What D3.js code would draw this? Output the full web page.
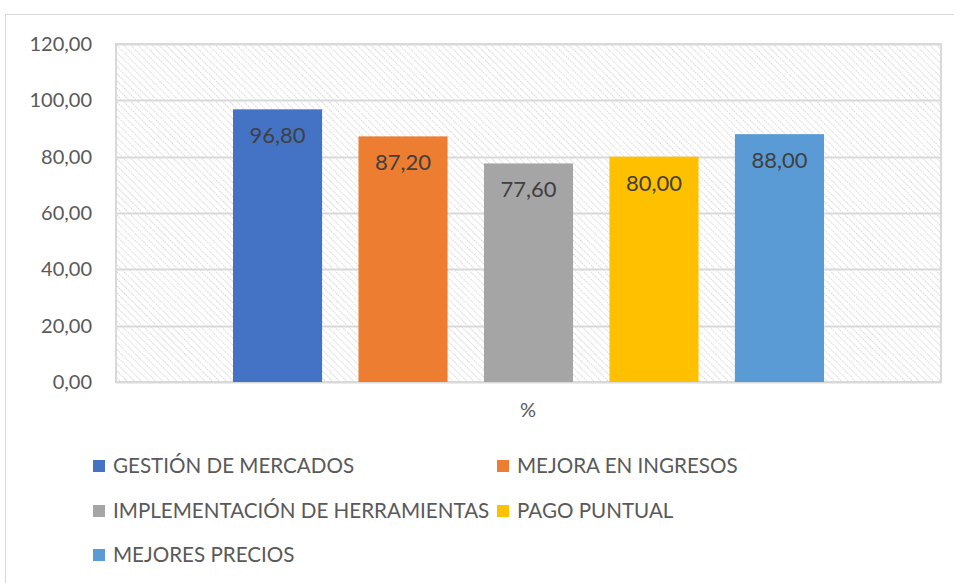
<!DOCTYPE html>
<html>
<head>
<meta charset="utf-8">
<script src="https://cdn.jsdelivr.net/npm/d3@7"></script>
<style>
  html, body { margin: 0; padding: 0; background: #fff; }
  svg { display: block; font-family: Lato, "Open Sans", sans-serif; }
</style>
</head>
<body>
<svg id="chart" width="954" height="583"></svg>
<script>
// Series shown as bars in the single "%" group
const categories = ["GESTIÓN DE MERCADOS", "MEJORA EN INGRESOS", "IMPLEMENTACIÓN DE HERRAMIENTAS", "PAGO PUNTUAL", "MEJORES PRECIOS"];
const values = [96.80, 87.20, 77.60, 80.00, 88.00];
const colors = ["#4472c4", "#ed7d31", "#a5a5a5", "#ffc000", "#5b9bd5"];
const yTicks = [0, 20, 40, 60, 80, 100, 120];
const groupLabel = "%";

const fmt = v => v.toFixed(2).replace(".", ",");

const svg = d3.select("#chart");
const W = 954, H = 583;

// Outer chart frame
svg.append("rect")
  .attr("x", 5.5).attr("y", 14.5)
  .attr("width", W + 10).attr("height", H + 10)
  .attr("fill", "#fff").attr("stroke", "#d9d9d9").attr("stroke-width", 1);

const plot = { left: 116, right: 941, top: 44, bottom: 382 };

// Diagonal hatch fill for the plot area
const defs = svg.append("defs");
const pat = defs.append("pattern")
  .attr("id", "hatch")
  .attr("patternUnits", "userSpaceOnUse")
  .attr("width", 5).attr("height", 5)
  .attr("patternTransform", "rotate(-45)");
pat.append("rect").attr("width", 5).attr("height", 5).attr("fill", "#fff");
pat.append("line")
  .attr("x1", 0).attr("y1", 0).attr("x2", 0).attr("y2", 5)
  .attr("stroke", "#d6d6d6").attr("stroke-width", 2)
  .attr("stroke-dasharray", "1.5,1");

const y = d3.scaleLinear().domain([0, 120]).range([plot.bottom, plot.top]);
const xGroup = d3.scaleBand().domain([groupLabel]).range([plot.left, plot.right]).paddingInner(0).paddingOuter(0);
const x = d3.scaleBand().domain(categories)
  .range([233, 824])
  .paddingInner(0.29).paddingOuter(0);

svg.append("rect")
  .attr("x", plot.left).attr("y", plot.top)
  .attr("width", plot.right - plot.left).attr("height", plot.bottom - plot.top)
  .attr("fill", "url(#hatch)");

// Gridlines
svg.append("g")
  .selectAll("line").data(yTicks).join("line")
  .attr("x1", plot.left).attr("x2", plot.right)
  .attr("y1", d => Math.round(y(d)) + 0.5).attr("y2", d => Math.round(y(d)) + 0.5)
  .attr("stroke", "#d9d9d9").attr("stroke-width", 2);

// Plot border
svg.append("rect")
  .attr("x", plot.left).attr("y", plot.top)
  .attr("width", plot.right - plot.left).attr("height", plot.bottom - plot.top)
  .attr("fill", "none").attr("stroke", "#d9d9d9").attr("stroke-width", 2);

// Y axis labels
const yAxis = d3.axisLeft(y).tickValues(yTicks).tickFormat(fmt).tickSize(0).tickPadding(24);
const ya = svg.append("g").attr("transform", `translate(${plot.left},0)`).call(yAxis);
ya.select(".domain").remove();
ya.selectAll("text").attr("font-size", 20).attr("fill", "#595959").attr("font-family", "Lato, sans-serif");

// Bars
svg.append("g").selectAll("rect").data(categories).join("rect")
  .attr("x", d => x(d))
  .attr("width", x.bandwidth())
  .attr("y", (d, i) => y(values[i]))
  .attr("height", (d, i) => y(0) - y(values[i]))
  .attr("fill", (d, i) => colors[i]);

// Value labels
svg.append("g").selectAll("text").data(categories).join("text")
  .attr("x", d => x(d) + x.bandwidth() / 2)
  .attr("y", (d, i) => y(values[i]) + 34)
  .attr("text-anchor", "middle")
  .attr("font-size", 22)
  .attr("fill", "#404040")
  .text((d, i) => fmt(values[i]));

// Category axis label
svg.append("text")
  .attr("x", xGroup(groupLabel) + xGroup.bandwidth() / 2 - 0.5)
  .attr("y", 417)
  .attr("text-anchor", "middle")
  .attr("font-size", 20)
  .attr("fill", "#595959")
  .text(groupLabel);

// Legend
const legendPos = [[93, 466], [497, 466], [93, 511], [497, 511], [93, 555]];
const lg = svg.append("g").selectAll("g").data(categories).join("g")
  .attr("transform", (d, i) => `translate(${legendPos[i][0]},${legendPos[i][1]})`);
lg.append("rect").attr("x", 0).attr("y", -6).attr("width", 12).attr("height", 12)
  .attr("fill", (d, i) => colors[i]);
lg.append("text").attr("x", 20).attr("y", 0).attr("dy", "0.36em")
  .attr("font-size", 20.6).attr("fill", "#595959")
  .text(d => d);
</script>
</body>
</html>
